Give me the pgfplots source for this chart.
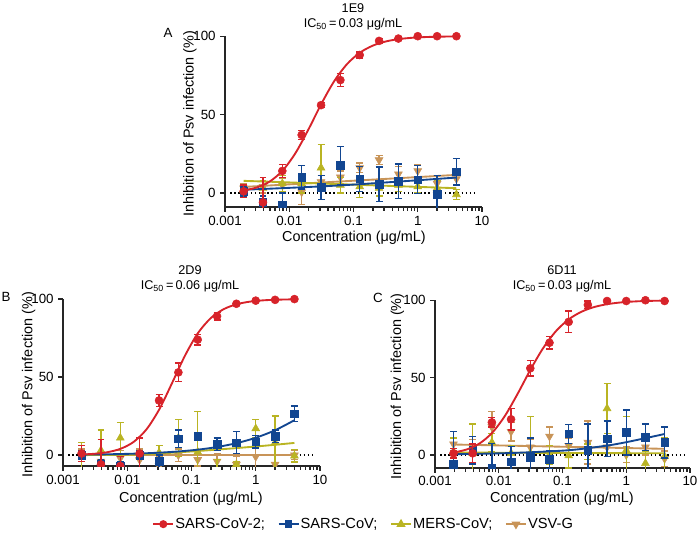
\documentclass[border=0pt]{standalone}
\usepackage{fontspec}
\setmainfont{Liberation Sans}
\usepackage{pgfplots}
\pgfplotsset{compat=1.18}

\definecolor{cRed}{RGB}{215,35,42}
\definecolor{cBlue}{RGB}{18,70,145}
\definecolor{cOlive}{RGB}{185,180,35}
\definecolor{cTan}{RGB}{200,148,88}
\newcommand{\fsz}{\fontsize{9.5}{11}\selectfont}
\newcommand{\ftk}{\fontsize{10}{12}\selectfont}
\newcommand{\flb}{\fontsize{10.8}{13}\selectfont}

\pgfplotsset{/pgf/number format/assume math mode=true}
\pgfplotsset{
  errpts/.style={only marks, forget plot,
    error bars/y dir=both, error bars/y explicit,
    error bars/error bar style={line width=1pt},
    error bars/error mark options={rotate=90, mark size=2.6pt, line width=1pt}},
  fitln/.style={no marks, forget plot, line width=1.4pt, smooth},
  zeroline/.style={black, line width=1pt, dash pattern=on 1.1pt off 2pt, forget plot},
  ptR/.style={errpts, cRed, mark=*, mark size=3pt},
  ptB/.style={errpts, cBlue, mark=square*, mark size=2.8pt},
  ptY/.style={errpts, cOlive, mark=triangle*, mark size=3.4pt},
  ptT/.style={errpts, cTan, mark=triangle*, mark size=3.4pt, mark options={rotate=180}},
}

\begin{document}
\begin{tikzpicture}[font=\fsz]
\useasboundingbox (0,0) rectangle (525pt,402.75pt);

% ---------------- A: 1E9
\begin{axis}[scale only axis, anchor=south west, at={(168.75pt,247.5pt)},
  width=192.75pt, height=137.5pt, xmode=log, xmin=0.001, xmax=10, ymin=-9, ymax=108,
  xtick={0.001,0.01,0.1,1,10}, xticklabels={0.001,0.01,0.1,1,10}, ytick={0,50,100},
  axis x line=bottom, axis y line=left, axis line style={-, black!85, line width=1pt},
  y axis line style={draw=none}, tick align=outside, major tick length=3.5pt,
  tick style={black!85, line width=1pt}, clip marker paths=true, tick label style={font=\ftk},
  extra description/.code={\draw[black!85, line width=1pt] (axis description cs:0,0) -- (axis description cs:0,0.9316);},
  legend style={at={(axis description cs:0.541,-1.73)}, anchor=center, draw=none, fill=none,
    font=\fontsize{11}{13}\selectfont, /tikz/every even column/.append style={column sep=7.5pt},
    /tikz/every odd column/.append style={column sep=-1pt}},
  legend image code/.code={\draw[mark repeat=2, mark phase=2] plot coordinates {(0pt,0pt) (7.5pt,0pt) (15pt,0pt)};},
  legend columns=4, legend cell align=left]
\addplot[zeroline] coordinates {(0.0012,0) (8.5,0)};
\addplot[ptT] table[x=x,y=y,y error=e,row sep=\\]{x y e\\
0.00195 3 3\\ 0.0039 4 4\\ 0.0078 5 4\\ 0.0156 0.5 8\\ 0.03125 7 4\\ 0.0625 10 4\\
0.125 16 3\\ 0.25 21 3\\ 0.5 12 5\\ 1 14 4\\ 2 6 5\\ 4 9 4\\};
\addplot[fitln, cTan] coordinates {(0.00195,3.8) (4,11.5)};
\addplot[ptY] table[x=x,y=y,y error=e,row sep=\\]{x y e\\
0.00195 2 3\\ 0.0039 3 5\\ 0.0078 6 5\\ 0.0156 6 6\\ 0.03125 16 15\\ 0.0625 5 5\\
0.125 4 7\\ 0.25 3 5\\ 0.5 5 4\\ 1 4 4\\ 2 3 5\\ 4 -1 3\\};
\addplot[fitln, cOlive] coordinates {(0.00195,7.7) (4,3)};
\addplot[ptB] table[x=x,y=y,y error=e,row sep=\\]{x y e\\
0.00195 1 3\\ 0.0039 -6 4\\ 0.0078 -8 8\\ 0.0156 10 7.5\\ 0.03125 3.5 7.5\\ 0.0625 17.5 12\\
0.125 9 8\\ 0.25 5.5 11\\ 0.5 7.5 11\\ 1 8.5 9\\ 2 -1 12\\ 4 13.5 8.5\\};
\addplot[fitln, cBlue] coordinates {(0.00195,2) (0.0625,4.8) (4,9.8)};
\addplot[ptR] table[x=x,y=y,y error=e,row sep=\\]{x y e\\
0.00195 1 4\\ 0.0039 -6 16\\ 0.0078 14 4\\ 0.0156 37 3\\ 0.03125 56 1.5\\ 0.0625 72 4\\
0.125 88 2\\ 0.25 97 1.5\\ 0.5 98.5 1\\ 1 100 0.5\\ 2 100 0.5\\ 4 100 0.5\\};
\addplot[fitln, cRed] coordinates {(0.001995,1.62) (0.003162,3.52) (0.005012,7.36) (0.007943,14.39)
  (0.012589,25.62) (0.019953,40.60) (0.031623,56.86) (0.050119,71.33) (0.079433,82.23)
  (0.125893,89.50) (0.199526,93.98) (0.316228,96.62) (0.501187,98.12) (0.794328,98.96)
  (1.258925,99.42) (1.995262,99.68) (3.981072,99.87)};
\addlegendimage{cRed, mark=*, mark size=2.4pt, line width=1.2pt}
\addlegendentry{SARS-CoV-2;}
\addlegendimage{cBlue, mark=square*, mark size=2.2pt, line width=1.2pt}
\addlegendentry{SARS-CoV;}
\addlegendimage{cOlive, mark=triangle*, mark size=2.8pt, line width=1.2pt}
\addlegendentry{MERS-CoV;}
\addlegendimage{cTan, mark=triangle*, mark size=2.8pt, mark options={rotate=180}, line width=1.2pt}
\addlegendentry{VSV-G}
\end{axis}

% ---------------- B: 2D9
\begin{axis}[scale only axis, anchor=south west, at={(47.25pt,53.25pt)},
  width=192.75pt, height=134.55pt, xmode=log, xmin=0.001, xmax=10, ymin=-7, ymax=108,
  xtick={0.001,0.01,0.1,1,10}, xticklabels={0.001,0.01,0.1,1,10}, ytick={0,50,100},
  axis x line=bottom, axis y line=left, axis line style={-, black!85, line width=1pt},
  y axis line style={draw=none}, tick align=outside, major tick length=3.5pt,
  tick style={black!85, line width=1pt}, clip marker paths=true, tick label style={font=\ftk},
  extra description/.code={\draw[black!85, line width=1pt] (axis description cs:0,0) -- (axis description cs:0,0.9304);}]
\addplot[zeroline] coordinates {(0.0012,0) (8.5,0)};
\addplot[ptT] table[x=x,y=y,y error=e,row sep=\\]{x y e\\
0.00195 0 4\\ 0.0039 -4 6\\ 0.0078 -2 5\\ 0.0156 -3 7\\ 0.03125 -7 6\\ 0.0625 0 4\\
0.125 -3 4\\ 0.25 -4 5\\ 0.5 -6 5\\ 1 -1 8\\ 2 -6 6\\ 4 0 3\\};
\addplot[fitln, cTan] coordinates {(0.00195,0) (4,0)};
\addplot[ptY] table[x=x,y=y,y error=e,row sep=\\]{x y e\\
0.00195 -9 17\\ 0.0039 3 13\\ 0.0078 11 10\\ 0.0156 -1 12\\ 0.03125 1.5 4.5\\ 0.0625 11 12\\
0.125 2 26\\ 0.25 -8 5\\ 0.5 -6 2\\ 1 17 6\\ 2 8 17\\ 4 -0.5 4\\};
\addplot[fitln, cOlive] coordinates {(0.00195,0) (0.0156,0.4) (0.125,2.6) (1,5.5) (4,7.8)};
\addplot[ptB] table[x=x,y=y,y error=e,row sep=\\]{x y e\\
0.00195 0 3\\ 0.0039 -6 3\\ 0.0078 -7 3\\ 0.0156 0 3\\ 0.03125 -4 4\\ 0.0625 10.5 5.5\\
0.125 12 2\\ 0.25 7 4\\ 0.5 8 7\\ 1 8.5 4\\ 2 12 4\\ 4 26.5 5\\};
\addplot[fitln, cBlue] coordinates {(0.001995,0.30) (0.003981,0.45) (0.007943,0.68) (0.015849,1.03)
  (0.031623,1.55) (0.063096,2.33) (0.125893,3.48) (0.251189,5.18) (0.501187,7.63) (1,11.1)
  (1.995262,15.9) (3.981072,22.3)};
\addplot[ptR] table[x=x,y=y,y error=e,row sep=\\]{x y e\\
0.00195 1 5\\ 0.0039 -6 16\\ 0.0078 -7 6\\ 0.0156 1 10\\ 0.03125 35 4\\ 0.0625 53 6\\
0.125 74 3.5\\ 0.25 89 2.5\\ 0.5 97 1\\ 1 99 0.5\\ 2 99.5 0.5\\ 4 100 0.5\\};
\addplot[fitln, cRed] coordinates {(0.001995,0.40) (0.003162,0.88) (0.005012,1.92) (0.007943,4.10)
  (0.012589,8.47) (0.019953,16.52) (0.031623,29.42) (0.050119,46.37) (0.079433,63.86)
  (0.125893,78.16) (0.199526,87.80) (0.316228,93.51) (0.501187,96.65) (0.794328,98.31)
  (1.258925,99.14) (1.995262,99.57) (3.981072,99.85)};
\end{axis}

% ---------------- C: 6D11
\begin{axis}[scale only axis, anchor=south west, at={(326.25pt,51.75pt)},
  width=191.25pt, height=135.1pt, xmode=log, xmin=0.001, xmax=10, ymin=-8.5, ymax=108,
  xtick={0.001,0.01,0.1,1,10}, xticklabels={0.001,0.01,0.1,1,10}, ytick={0,50,100},
  axis x line=bottom, axis y line=left, axis line style={-, black!85, line width=1pt},
  y axis line style={draw=none}, tick align=outside, major tick length=3.5pt,
  tick style={black!85, line width=1pt}, clip marker paths=true, tick label style={font=\ftk},
  xticklabel style={yshift=1pt},
  extra description/.code={\draw[black!85, line width=1pt] (axis description cs:0,0) -- (axis description cs:0,0.9313);}]
\addplot[zeroline] coordinates {(0.0012,0) (8.5,0)};
\addplot[ptT] table[x=x,y=y,y error=e,row sep=\\]{x y e\\
0.00195 7 4\\ 0.0039 5 5\\ 0.0078 18 10\\ 0.0156 15 6\\ 0.03125 5 5\\ 0.0625 12 6\\
0.125 6 5\\ 0.25 8 14\\ 0.5 5 4\\ 1 0 5\\ 2 5 5\\ 4 -2.5 5\\};
\addplot[fitln, cTan] coordinates {(0.00195,6.7) (4,3.9)};
\addplot[ptY] table[x=x,y=y,y error=e,row sep=\\]{x y e\\
0.00195 2 9\\ 0.0039 1 19\\ 0.0078 8 6\\ 0.0156 1 5\\ 0.03125 1 24\\ 0.0625 0 6\\
0.125 -0.5 8\\ 0.25 2 5\\ 0.5 30 16\\ 1 3 22\\ 2 -5.5 8\\ 4 -1 12\\};
\addplot[fitln, cOlive] coordinates {(0.00195,1.5) (4,1)};
\addplot[ptB] table[x=x,y=y,y error=e,row sep=\\]{x y e\\
0.00195 -6 21\\ 0.0039 3 9\\ 0.0078 -8.5 16\\ 0.0156 -4.5 10\\ 0.03125 -1.5 12.5\\ 0.0625 -3 6\\
0.125 13.5 6\\ 0.25 3 17\\ 0.5 10.5 11.5\\ 1 14.5 14.5\\ 2 11.5 8.5\\ 4 8 10\\};
\addplot[fitln, cBlue] coordinates {(0.00195,0.4) (0.0156,1.2) (0.125,3) (0.5,6) (1,8.2) (2,10.8) (4,13.5)};
\addplot[ptR] table[x=x,y=y,y error=e,row sep=\\]{x y e\\
0.00195 1 3\\ 0.0039 1 6\\ 0.0078 21 3\\ 0.0156 23 7\\ 0.03125 56 5\\ 0.0625 72.5 4\\
0.125 86 7\\ 0.25 97 2.5\\ 0.5 99.5 0.5\\ 1 99.5 0.5\\ 2 100 0.5\\ 4 99.5 0.5\\};
\addplot[fitln, cRed] coordinates {(0.001995,1.58) (0.003162,3.51) (0.005012,7.40) (0.007943,14.42)
  (0.012589,25.41) (0.019953,39.77) (0.031623,55.28) (0.050119,69.26) (0.079433,80.13)
  (0.125893,87.70) (0.199526,92.61) (0.316228,95.63) (0.501187,97.45) (0.794328,98.52)
  (1.258925,99.14) (1.995262,99.51) (3.981072,99.78)};
\end{axis}

% titles, panel letters and axis labels
\node at (264.75pt,396.4pt) {1E9};
\node at (264.75pt,384.75pt) {IC\textsubscript{50}\,=\,0.03 μg/mL};
\node at (142.5pt,200.25pt) {2D9};
\node at (142.5pt,187.9pt) {IC\textsubscript{50}\,=\,0.06 μg/mL};
\node at (421.5pt,200.25pt) {6D11};
\node at (421.5pt,187.9pt) {IC\textsubscript{50}\,=\,0.03 μg/mL};
\node[font=\ftk] at (126pt,378pt) {A};
\node[font=\ftk] at (4.5pt,180pt) {B};
\node[font=\ftk] at (283.5pt,179.25pt) {C};
\node[rotate=90, font=\flb] at (142.5pt,310pt) {Inhibition of Psv infection (\%)};
\node[rotate=90, font=\flb] at (21.4pt,114pt) {Inhibition of Psv infection (\%)};
\node[rotate=90, font=\flb] at (298.1pt,113pt) {Inhibition of Psv infection (\%)};
\node[font=\flb] at (265.5pt,224.25pt) {Concentration (μg/mL)};
\node[font=\flb] at (143.25pt,28.5pt) {Concentration (μg/mL)};
\node[font=\flb] at (421.5pt,28.5pt) {Concentration (μg/mL)};
\end{tikzpicture}
\end{document}
